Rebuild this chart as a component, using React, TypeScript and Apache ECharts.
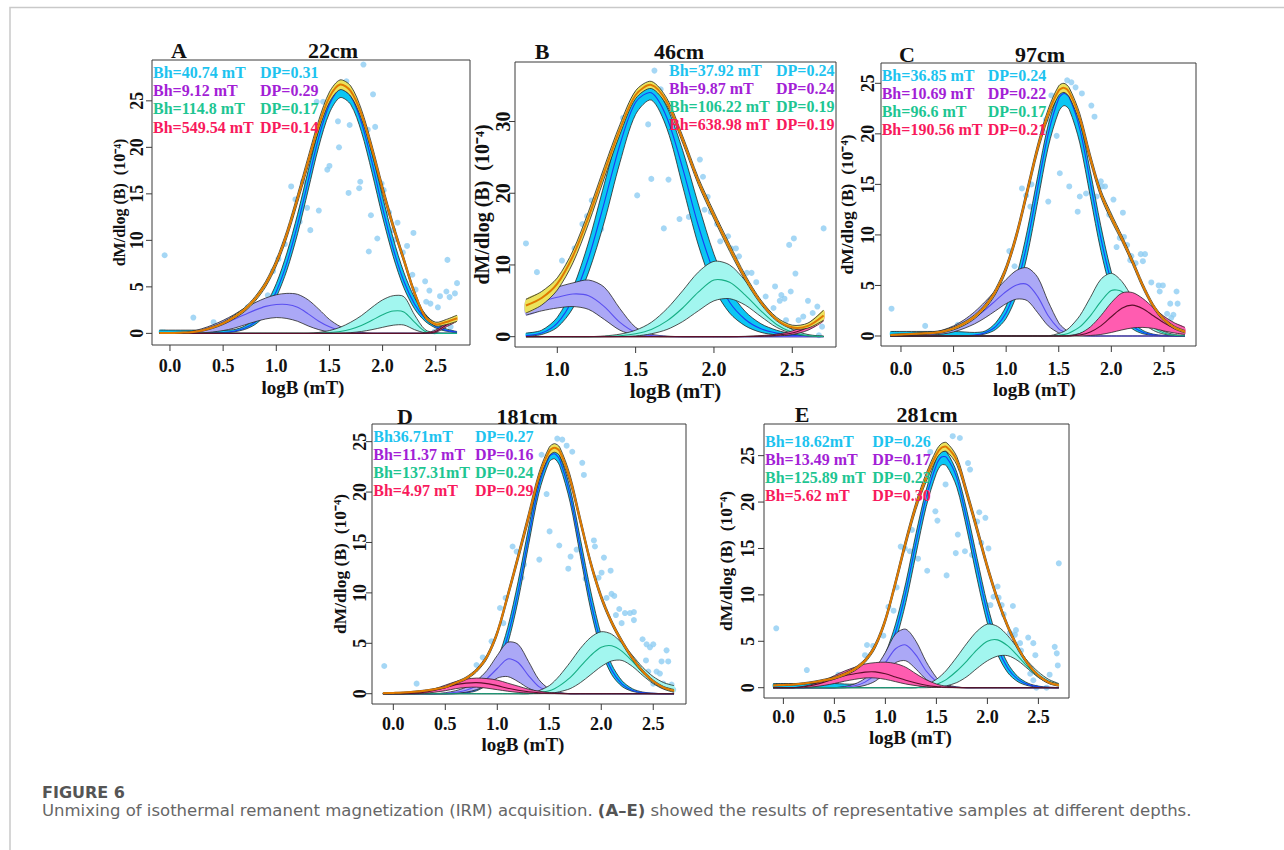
import React, { useEffect, useRef } from "react";
import * as echarts from "echarts";

// ---------- x grids (logB, mT) ----------
const xA = [-0.1,0,0.1,0.2,0.3,0.4,0.5,0.6,0.7,0.8,0.9,1.0,1.1,1.2,1.3,1.4,1.5,1.6,1.7,1.8,1.9,2.0,2.1,2.2,2.3,2.4,2.5,2.6,2.7];
const xB = [0.8,0.9,1.0,1.1,1.2,1.3,1.4,1.5,1.6,1.7,1.8,1.9,2.0,2.1,2.2,2.3,2.4,2.5,2.6,2.7];
const xCDE = [-0.1,0,0.1,0.2,0.3,0.4,0.5,0.6,0.7,0.8,0.9,1.0,1.1,1.2,1.3,1.4,1.5,1.55,1.6,1.7,1.8,1.9,2.0,2.1,2.2,2.3,2.4,2.5,2.6,2.7];

// ---------- Panel A (22cm) ----------
const aCyanMean = [0,0,0,0,0,0.03,0.08,0.22,0.54,1.2,2.4,4.5,7.6,11.7,16.4,21.1,24.6,26.25,25.5,22.7,18.4,13.5,9.1,5.6,3.15,1.6,0.75,0.32,0.12];
const aCyanLo = [0,0,0,0,0,0.02,0.06,0.16,0.41,0.95,2.0,3.9,6.8,10.7,15.4,20.1,23.7,25.35,24.6,21.7,17.3,12.5,8.25,4.9,2.65,1.3,0.58,0.23,0.09];
const aCyanHi = [0.35,0.35,0.35,0.35,0.35,0.35,0.35,0.4,0.77,1.6,3.05,5.35,8.65,12.8,17.5,21.95,25.3,26.85,26.2,23.5,19.35,14.7,10.2,6.55,3.85,2.1,1.04,0.48,0.2];
const aPurpleMean = [0,0,0,0.1,0.3,0.6,1.0,1.5,2.0,2.5,2.9,3.1,3.1,2.8,2.1,1.3,0.7,0.3,0.1,0.03,0,0,0,0,0,0,0,0,0];
const aPurpleLo = [0,0,0,0.02,0.05,0.15,0.3,0.55,0.9,1.25,1.55,1.7,1.6,1.3,0.8,0.4,0.15,0.05,0,0,0,0,0,0,0,0,0,0,0];
const aPurpleHi = [0,0,0,0.2,0.5,0.9,1.4,2.0,2.7,3.3,3.8,4.15,4.3,4.2,3.6,2.6,1.5,0.75,0.3,0.1,0,0,0,0,0,0,0,0,0];
const aGreenMean = [0,0,0,0,0,0,0,0,0,0,0,0,0,0,0,0.02,0.08,0.2,0.45,0.85,1.4,2.0,2.4,2.3,1.2,0.2,0.03,0,0];
const aGreenLo = [0,0,0,0,0,0,0,0,0,0,0,0,0,0,0,0,0,0.02,0.08,0.2,0.4,0.65,0.88,0.9,0.4,0.05,0,0,0];
const aGreenHi = [0,0,0,0,0,0,0,0,0,0,0,0,0,0,0,0.1,0.3,0.65,1.2,1.9,2.8,3.6,4.05,3.95,2.0,0.4,0.05,0,0];
const aPinkMean = [0,0,0,0,0,0,0,0,0,0,0,0,0,0,0,0,0,0,0,0,0,0,0,0,0,0.02,0.2,0.9,1.5];
const aPinkLo = [0,0,0,0,0,0,0,0,0,0,0,0,0,0,0,0,0,0,0,0,0,0,0,0,0,0,0.1,0.7,1.3];
const aPinkHi = [0,0,0,0,0,0,0,0,0,0,0,0,0,0,0,0,0,0,0,0,0,0,0,0,0,0.05,0.35,1.1,1.8];
const aTotalMean = [0.05,0.05,0.08,0.12,0.3,0.63,1.08,1.72,2.54,3.7,5.3,7.6,10.7,14.5,18.5,22.4,25.4,26.75,26.05,23.6,19.8,15.5,11.5,7.9,4.35,1.8,0.98,1.22,1.62];
const aTotalLo = [0.02,0.02,0.04,0.07,0.22,0.52,0.95,1.55,2.33,3.45,5.0,7.25,10.3,14.05,18.0,21.85,24.85,26.2,25.5,23.1,19.35,15.1,11.15,7.6,4.1,1.6,0.8,0.95,1.3];
const aTotalHi = [0.1,0.1,0.13,0.18,0.38,0.75,1.22,1.9,2.75,3.95,5.6,7.95,11.1,14.95,19.0,22.95,25.95,27.25,26.6,24.1,20.25,15.9,11.85,8.2,4.6,2.0,1.2,1.5,1.95];
const aPoints = [[-0.05,8.4],[0.22,1.7],[0.41,1.2],[0.54,1.3],[0.65,1.9],[0.73,2.8],[0.8,3.0],[0.92,4.1],[0.97,6.7],[1.02,8.0],[1.08,9.6],[1.14,15.8],[1.18,14.4],[1.22,12.0],[1.25,16.3],[1.29,13.5],[1.32,11.1],[1.38,24.9],[1.40,13.2],[1.44,24.9],[1.48,17.6],[1.50,18.0],[1.58,22.8],[1.59,20.0],[1.66,27.1],[1.68,15.1],[1.69,22.4],[1.78,15.6],[1.79,16.3],[1.82,28.9],[1.86,21.9],[1.87,8.8],[1.89,12.7],[1.91,25.7],[1.93,22.2],[1.95,10.2],[1.99,16.1],[2.01,15.4],[2.06,13.0],[2.10,11.1],[2.12,10.1],[2.14,11.9],[2.19,8.7],[2.23,9.4],[2.28,6.3],[2.29,10.8],[2.31,4.7],[2.40,5.6],[2.41,3.4],[2.44,4.6],[2.45,3.2],[2.49,0.2],[2.52,2.8],[2.54,4.0],[2.60,4.5],[2.60,1.1],[2.61,7.9],[2.63,3.9],[2.64,0.7],[2.68,4.3],[2.70,5.4]];

// ---------- Panel B (46cm) ----------
const bCyanMean = [0.15,0.5,1.9,5.3,11.0,18.7,26.8,32.7,34.0,30.5,23.5,15.5,9.0,4.8,2.4,1.1,0.5,0.2,0.08,0.03];
const bCyanLo = [0.08,0.3,1.3,4.0,9.0,16.0,24.3,31.0,33.0,29.0,21.0,12.8,6.8,3.3,1.5,0.6,0.25,0.1,0.03,0.01];
const bCyanHi = [0.5,0.9,2.7,6.8,13.2,21.3,29.0,34.2,35.2,32.0,26.0,18.5,11.5,6.5,3.5,1.8,0.9,0.4,0.18,0.07];
const bPurpleMean = [4.2,4.9,5.5,5.95,5.7,4.2,2.0,0.6,0.15,0.03,0,0,0,0,0,0,0,0,0,0];
const bPurpleLo = [3.0,3.6,4.0,4.2,3.8,2.4,0.9,0.2,0.04,0,0,0,0,0,0,0,0,0,0,0];
const bPurpleHi = [5.2,6.1,6.9,7.5,7.9,6.9,3.9,1.3,0.35,0.08,0,0,0,0,0,0,0,0,0,0];
const bGreenMean = [0,0,0,0,0,0.03,0.12,0.4,1.0,2.2,4.0,6.2,7.9,7.6,5.8,3.6,1.7,0.6,0.15,0.03];
const bGreenLo = [0,0,0,0,0,0,0.02,0.1,0.4,1.0,2.1,3.6,5.0,5.3,4.4,2.8,1.3,0.45,0.1,0.02];
const bGreenHi = [0,0,0,0,0,0.1,0.35,0.9,2.0,3.9,6.4,9.0,10.5,10.0,7.8,5.0,2.5,1.0,0.3,0.06];
const bPinkMean = [0,0,0,0,0,0,0,0,0,0,0,0,0,0,0.02,0.08,0.2,0.5,1.3,2.9];
const bPinkLo = [0,0,0,0,0,0,0,0,0,0,0,0,0,0,0,0.03,0.1,0.3,0.9,2.2];
const bPinkHi = [0,0,0,0,0,0,0,0,0,0,0,0,0,0,0.05,0.15,0.35,0.8,1.8,3.6];
const bTotalMean = [4.35,5.4,7.4,11.25,16.7,22.95,28.9,33.7,35.1,32.7,27.5,21.7,16.9,12.4,8.2,4.8,2.4,1.3,1.5,2.96];
const bTotalLo = [3.3,4.4,6.5,10.3,15.8,22.1,28.2,33.2,34.6,32.2,27.0,21.2,16.4,11.9,7.8,4.5,2.2,1.1,1.2,2.3];
const bTotalHi = [5.2,6.3,8.2,12.0,17.5,23.7,29.6,34.3,35.6,33.2,28.0,22.2,17.4,12.9,8.6,5.1,2.7,1.6,1.9,3.7];
const bPoints = [[0.80,13.0],[0.87,9.0],[1.03,10.6],[1.07,10.0],[1.11,12.3],[1.16,15.7],[1.19,16.8],[1.22,19.0],[1.28,15.0],[1.35,25.7],[1.42,30.5],[1.51,19.7],[1.58,29.6],[1.60,22.0],[1.62,37.1],[1.66,34.5],[1.68,15.1],[1.71,21.9],[1.78,16.4],[1.84,16.7],[1.91,24.7],[1.93,22.3],[1.94,17.7],[1.96,19.5],[1.98,17.4],[2.02,15.7],[2.04,13.3],[2.09,14.0],[2.11,12.3],[2.14,12.3],[2.16,11.2],[2.21,8.9],[2.24,8.9],[2.27,7.6],[2.26,5.6],[2.33,5.6],[2.38,4.0],[2.39,7.0],[2.42,5.0],[2.43,5.8],[2.45,5.3],[2.48,12.8],[2.51,13.7],[2.49,6.3],[2.52,8.8],[2.46,2.3],[2.54,2.3],[2.60,5.0],[2.57,2.8],[2.63,3.3],[2.66,4.2],[2.67,0.2],[2.69,1.4],[2.70,15.1]];

// ---------- Panel C (97cm) ----------
const cCyanMean = [0,0,0,0,0,0,0,0.02,0.09,0.32,0.93,2.3,5.0,9.2,14.7,20.0,23.5,24.0,23.6,20.5,15.2,9.7,5.35,2.5,1.03,0.36,0.11,0.03,0.01,0];
const cCyanLo = [0,0,0,0,0,0,0,0,0.05,0.2,0.64,1.75,4.06,7.97,13.3,18.7,22.2,22.8,22.4,19.1,13.8,8.46,4.38,1.92,0.71,0.22,0.06,0.01,0,0];
const cCyanHi = [0.45,0.45,0.45,0.45,0.45,0.45,0.45,0.4,0.35,0.49,1.3,2.97,5.95,10.4,15.8,20.9,24.1,24.6,24.3,21.3,16.3,10.9,6.33,3.2,1.42,0.55,0.18,0.05,0.01,0];
const cPurpleMean = [0,0,0,0.1,0.2,0.4,0.75,1.2,1.8,2.6,3.5,4.4,5.05,5.1,3.9,2.0,0.7,0.4,0.2,0.05,0,0,0,0,0,0,0,0,0,0];
const cPurpleLo = [0,0,0,0,0.1,0.2,0.4,0.75,1.2,1.8,2.5,3.2,3.65,3.5,2.3,1.0,0.3,0.15,0.08,0.02,0,0,0,0,0,0,0,0,0,0];
const cPurpleHi = [0,0,0,0.15,0.3,0.6,1.0,1.6,2.4,3.4,4.5,5.6,6.5,6.75,5.8,3.4,1.3,0.75,0.4,0.1,0,0,0,0,0,0,0,0,0,0];
const cGreenMean = [0,0,0,0,0,0,0,0,0,0,0,0,0,0,0,0,0.08,0.15,0.3,0.9,2.0,3.4,4.5,4.4,3.3,1.9,0.85,0.3,0.08,0.02];
const cGreenLo = [0,0,0,0,0,0,0,0,0,0,0,0,0,0,0,0,0,0.02,0.05,0.25,0.7,1.5,2.4,2.7,2.2,1.3,0.55,0.18,0.04,0.01];
const cGreenHi = [0,0,0,0,0,0,0,0,0,0,0,0,0,0,0,0,0.25,0.45,0.8,2.0,3.8,5.6,6.2,5.4,3.8,2.2,1.1,0.45,0.15,0.05];
const cPinkMean = [0,0,0,0,0,0,0,0,0,0,0,0,0,0,0,0,0,0,0,0.1,0.4,1.0,1.9,2.75,3.05,2.7,2.0,1.3,0.75,0.4];
const cPinkLo = [0,0,0,0,0,0,0,0,0,0,0,0,0,0,0,0,0,0,0,0,0.05,0.15,0.35,0.6,0.8,0.85,0.75,0.5,0.3,0.15];
const cPinkHi = [0,0,0,0,0,0,0,0,0,0,0,0,0,0,0,0,0,0,0,0.25,0.9,2.0,3.3,4.25,4.3,3.7,2.8,1.95,1.3,0.85];
const cTotalMean = [0.1,0.15,0.2,0.25,0.3,0.45,0.75,1.22,1.89,2.92,4.43,6.7,10.05,14.3,18.6,22.0,24.28,24.55,24.1,21.55,17.6,14.1,11.75,9.65,7.38,4.96,2.96,1.63,0.84,0.42];
const cTotalLo = [0.05,0.08,0.12,0.15,0.2,0.33,0.6,1.05,1.7,2.7,4.15,6.4,9.7,13.9,18.2,21.55,23.8,24.1,23.65,21.1,17.2,13.75,11.4,9.35,7.1,4.7,2.75,1.45,0.7,0.3];
const cTotalHi = [0.15,0.22,0.28,0.35,0.42,0.58,0.9,1.4,2.1,3.15,4.7,7.0,10.4,14.7,19.0,22.45,24.75,25.0,24.55,22.0,18.0,14.45,12.1,9.95,7.65,5.2,3.15,1.8,0.98,0.55];
const cPoints = [[-0.09,2.7],[0.23,1.0],[0.54,1.1],[0.80,2.9],[0.96,4.6],[1.03,8.4],[1.08,6.9],[1.15,14.6],[1.19,13.9],[1.23,12.8],[1.24,15.0],[1.35,20.2],[1.38,21.4],[1.40,13.3],[1.43,23.8],[1.48,19.8],[1.51,16.1],[1.58,25.3],[1.60,14.8],[1.62,25.1],[1.66,24.6],[1.68,12.3],[1.70,13.8],[1.72,24.0],[1.76,14.1],[1.81,22.8],[1.84,21.7],[1.86,13.8],[1.90,15.3],[1.91,14.8],[1.94,14.8],[1.98,12.0],[2.02,13.5],[2.05,8.8],[2.08,9.7],[2.11,12.2],[2.12,9.8],[2.15,9.0],[2.18,7.5],[2.19,7.9],[2.23,7.2],[2.28,8.1],[2.30,7.4],[2.32,8.1],[2.35,2.2],[2.38,5.3],[2.45,5.0],[2.46,4.4],[2.49,5.0],[2.53,2.2],[2.56,3.2],[2.57,1.8],[2.59,2.1],[2.62,4.4],[2.63,3.2],[2.68,0.4]];

// ---------- Panel D (181cm) ----------
const dCyanMean = [0,0,0,0,0,0,0,0.03,0.13,0.41,1.15,2.75,5.7,10.1,15.5,20.6,23.5,23.8,23.2,19.7,14.4,9.1,4.97,2.34,0.95,0.33,0.1,0.03,0,0];
const dCyanLo = [0,0,0,0,0,0,0,0,0.08,0.29,0.88,2.26,4.95,9.24,14.7,19.9,23.0,23.3,22.6,19.0,13.6,8.27,4.29,1.9,0.72,0.23,0.06,0,0,0];
const dCyanHi = [0,0,0,0,0,0,0,0.06,0.2,0.6,1.52,3.37,6.55,11.1,16.4,21.2,23.9,24.2,23.6,20.4,15.3,10.1,5.8,2.9,1.28,0.49,0.16,0.05,0,0];
const dPurpleMean = [0,0,0,0,0,0,0.05,0.15,0.35,0.8,1.5,2.5,3.45,3.1,1.8,0.7,0.2,0.1,0.05,0,0,0,0,0,0,0,0,0,0,0];
const dPurpleLo = [0,0,0,0,0,0,0,0.05,0.15,0.4,0.85,1.55,1.7,1.2,0.55,0.18,0.04,0.02,0,0,0,0,0,0,0,0,0,0,0,0];
const dPurpleHi = [0,0,0,0,0,0,0.1,0.3,0.65,1.3,2.3,3.8,5.1,4.9,3.2,1.4,0.45,0.25,0.12,0,0,0,0,0,0,0,0,0,0,0];
const dGreenMean = [0,0,0,0,0,0,0,0,0,0,0,0,0,0,0,0.1,0.3,0.5,0.8,1.6,2.7,3.8,4.6,4.75,4.2,3.2,2.1,1.2,0.6,0.3];
const dGreenLo = [0,0,0,0,0,0,0,0,0,0,0,0,0,0,0,0,0.05,0.1,0.2,0.5,1.1,1.9,2.7,3.25,3.3,2.7,1.8,1.0,0.45,0.15];
const dGreenHi = [0,0,0,0,0,0,0,0,0,0,0,0,0,0,0,0.3,0.8,1.25,1.8,3.1,4.5,5.6,6.15,5.9,5.0,3.8,2.6,1.7,1.1,0.8];
const dPinkMean = [0,0,0,0.05,0.15,0.35,0.6,0.9,1.05,1.1,1.0,0.8,0.55,0.35,0.2,0.1,0.05,0.03,0.02,0,0,0,0,0,0,0,0,0,0,0];
const dPinkLo = [0,0,0,0,0.05,0.15,0.3,0.5,0.62,0.65,0.55,0.4,0.25,0.13,0.06,0.02,0,0,0,0,0,0,0,0,0,0,0,0,0,0];
const dPinkHi = [0,0,0,0.1,0.25,0.5,0.85,1.2,1.45,1.55,1.5,1.35,1.05,0.75,0.45,0.25,0.12,0.08,0.05,0,0,0,0,0,0,0,0,0,0,0];
const dTotalMean = [0.05,0.08,0.12,0.2,0.3,0.45,0.65,1.08,1.53,2.31,3.65,6.05,9.7,13.55,17.5,21.5,24.05,24.4,24.05,21.3,17.1,12.9,9.57,7.09,5.15,3.53,2.2,1.23,0.6,0.3];
const dTotalLo = [0.02,0.05,0.08,0.15,0.25,0.38,0.58,0.98,1.4,2.15,3.45,5.8,9.4,13.2,17.1,21.1,23.6,23.95,23.6,20.9,16.75,12.6,9.3,6.85,4.95,3.35,2.05,1.1,0.5,0.2];
const dTotalHi = [0.1,0.12,0.16,0.25,0.36,0.52,0.73,1.18,1.66,2.47,3.85,6.3,10.0,13.9,17.9,21.9,24.45,24.8,24.45,21.7,17.45,13.2,9.85,7.3,5.35,3.7,2.35,1.36,0.72,0.42];
const dPoints = [[-0.087,2.75],[0.224,1.0],[0.80,2.85],[0.86,3.6],[0.945,5.2],[1.026,8.5],[1.058,7.0],[1.08,9.5],[1.147,14.6],[1.186,14.1],[1.234,11.5],[1.256,12.8],[1.404,13.3],[1.426,23.7],[1.474,19.8],[1.503,16.1],[1.577,25.3],[1.596,14.7],[1.625,25.2],[1.667,24.6],[1.683,12.4],[1.705,13.6],[1.721,24.0],[1.763,14.3],[1.817,22.9],[1.833,21.7],[1.849,11.4],[1.929,15.2],[1.939,14.6],[1.974,11.5],[2.003,12.0],[2.026,13.5],[2.051,9.5],[2.09,12.2],[2.099,9.9],[2.125,9.7],[2.141,7.8],[2.173,8.4],[2.196,7.0],[2.228,8.0],[2.276,8.0],[2.314,7.3],[2.314,8.1],[2.397,5.4],[2.43,3.3],[2.436,4.9],[2.468,4.6],[2.5,4.9],[2.452,2.2],[2.532,2.2],[2.564,2.0],[2.58,3.2],[2.628,4.3],[2.644,3.2],[2.596,1.0],[2.676,0.9],[2.692,0.4],[2.5,1.0]];

// ---------- Panel E (281cm) ----------
const eCyanMean = [0,0,0,0,0,0,0,0.06,0.19,0.55,1.38,3.07,6.0,10.3,15.6,20.5,24.0,24.85,24.8,22.6,18.0,12.9,8.0,4.36,2.1,0.89,0.33,0.11,0.03,0.01];
const eCyanLo = [0,0,0,0,0,0,0,0,0.12,0.37,1.02,2.44,5.08,9.17,14.4,19.5,23.1,24.0,23.9,21.6,17.0,11.7,6.93,3.58,1.61,0.63,0.21,0.06,0.01,0];
const eCyanHi = [0.45,0.45,0.45,0.45,0.45,0.45,0.45,0.4,0.4,0.76,1.78,3.71,6.87,11.3,16.6,21.3,24.7,25.5,25.4,23.2,19.0,13.9,8.95,5.13,2.61,1.18,0.48,0.17,0.05,0.02];
const ePurpleMean = [0,0,0,0,0,0,0,0.05,0.2,0.6,1.4,2.7,4.2,4.6,3.5,1.8,0.65,0.35,0.18,0.04,0,0,0,0,0,0,0,0,0,0];
const ePurpleLo = [0,0,0,0,0,0,0,0,0.05,0.25,0.7,1.6,2.7,2.9,2.0,0.9,0.28,0.13,0.06,0,0,0,0,0,0,0,0,0,0,0];
const ePurpleHi = [0,0,0,0,0,0,0,0.12,0.4,1.0,2.1,3.8,5.8,6.3,5.0,2.8,1.1,0.65,0.35,0.08,0,0,0,0,0,0,0,0,0,0];
const eGreenMean = [0,0,0,0,0,0,0,0,0,0,0,0,0,0,0,0.1,0.35,0.6,0.9,1.8,2.9,4.1,5.0,5.15,4.5,3.4,2.2,1.2,0.55,0.25];
const eGreenLo = [0,0,0,0,0,0,0,0,0,0,0,0,0,0,0,0,0.05,0.1,0.2,0.55,1.2,2.1,2.9,3.4,3.45,2.9,2.0,1.1,0.5,0.2];
const eGreenHi = [0,0,0,0,0,0,0,0,0,0,0,0,0,0,0,0.3,0.9,1.35,1.9,3.3,4.8,6.1,6.85,6.6,5.6,4.2,2.8,1.7,0.9,0.45];
const ePinkMean = [0,0,0,0.1,0.3,0.6,0.95,1.3,1.5,1.68,1.7,1.5,1.15,0.8,0.5,0.27,0.12,0.08,0.05,0.02,0,0,0,0,0,0,0,0,0,0];
const ePinkLo = [0,0,0,0,0.1,0.25,0.45,0.7,0.9,1.05,1.05,0.9,0.65,0.4,0.22,0.1,0.04,0.02,0.01,0,0,0,0,0,0,0,0,0,0,0];
const ePinkHi = [0,0,0,0.15,0.4,0.8,1.3,1.8,2.2,2.55,2.7,2.75,2.6,2.2,1.5,0.85,0.4,0.25,0.15,0.05,0,0,0,0,0,0,0,0,0,0];
const eTotalMean = [0.25,0.3,0.35,0.45,0.6,0.8,1.05,1.45,2.0,2.9,4.5,7.3,11.35,15.7,19.6,22.67,25.12,25.85,25.93,24.46,20.9,17.0,13.0,9.51,6.6,4.29,2.53,1.31,0.58,0.26];
const eTotalLo = [0.18,0.22,0.27,0.36,0.5,0.68,0.92,1.3,1.83,2.7,4.25,7.0,11.0,15.3,19.2,22.2,24.65,25.35,25.45,24.0,20.5,16.6,12.65,9.2,6.35,4.05,2.35,1.15,0.45,0.15];
const eTotalHi = [0.32,0.38,0.43,0.54,0.7,0.92,1.18,1.6,2.17,3.1,4.75,7.6,11.7,16.1,20.0,23.1,25.6,26.3,26.4,24.9,21.3,17.4,13.35,9.8,6.85,4.5,2.7,1.45,0.72,0.4];
const ePoints = [[-0.07,6.4],[0.23,1.9],[0.42,0.3],[0.54,1.4],[0.80,3.5],[0.82,4.6],[0.88,4.5],[0.98,5.6],[1.03,8.7],[1.08,8.3],[1.11,10.8],[1.15,15.2],[1.19,15.0],[1.24,14.7],[1.26,17.0],[1.32,13.9],[1.41,12.6],[1.44,25.4],[1.49,19.0],[1.51,18.0],[1.59,21.9],[1.60,12.1],[1.66,27.1],[1.69,14.5],[1.71,16.5],[1.73,26.9],[1.78,14.7],[1.81,24.2],[1.83,23.5],[1.85,14.3],[1.90,17.9],[1.92,18.9],[1.94,15.6],[1.98,18.3],[2.01,15.0],[1.99,8.9],[2.03,8.9],[2.06,9.8],[2.10,10.9],[2.11,9.7],[2.14,8.9],[2.16,7.9],[2.22,5.9],[2.24,5.7],[2.25,8.8],[2.27,5.7],[2.28,6.2],[2.32,4.8],[2.33,4.0],[2.40,5.4],[2.45,4.8],[2.47,3.5],[2.42,1.5],[2.45,0.8],[2.48,0.0],[2.58,0.0],[2.61,1.4],[2.66,4.4],[2.68,3.7],[2.69,2.4],[2.70,13.4]];

// ---------- labels ----------
const panelLetters = ["A", "B", "C", "D", "E"];
const panelDepths = ["22cm", "46cm", "97cm", "181cm", "281cm"];
const bhLabelsA = ["Bh=40.74 mT", "Bh=9.12 mT", "Bh=114.8 mT", "Bh=549.54 mT"];
const dpLabelsA = ["DP=0.31", "DP=0.29", "DP=0.17", "DP=0.14"];
const bhLabelsB = ["Bh=37.92 mT", "Bh=9.87 mT", "Bh=106.22 mT", "Bh=638.98 mT"];
const dpLabelsB = ["DP=0.24", "DP=0.24", "DP=0.19", "DP=0.19"];
const bhLabelsC = ["Bh=36.85 mT", "Bh=10.69 mT", "Bh=96.6 mT", "Bh=190.56 mT"];
const dpLabelsC = ["DP=0.24", "DP=0.22", "DP=0.17", "DP=0.21"];
const bhLabelsD = ["Bh36.71mT", "Bh=11.37 mT", "Bh=137.31mT", "Bh=4.97 mT"];
const dpLabelsD = ["DP=0.27", "DP=0.16", "DP=0.24", "DP=0.29"];
const bhLabelsE = ["Bh=18.62mT", "Bh=13.49 mT", "Bh=125.89 mT", "Bh=5.62 mT"];
const dpLabelsE = ["DP=0.26", "DP=0.17", "DP=0.23", "DP=0.30"];
const xTicksFull = [0, 0.5, 1.0, 1.5, 2.0, 2.5];
const xTicksB = [1.0, 1.5, 2.0, 2.5];
const yTicks25 = [0, 5, 10, 15, 20, 25];
const yTicksB = [0, 10, 20, 30];
const xAxisName = "logB (mT)";
const yAxisName = "dM/dlog (B)  (10\u207B\u2074)";
const captionTitle = "FIGURE 6";
const captionText = "Unmixing of isothermal remanent magnetization (IRM) acquisition. {b|(A\u2013E)} showed the results of representative samples at different depths.";

// ---------- styling ----------
const COMP_STYLE = [
  { fill: "#0bc6f3", line: "#1b3df0", text: "#1dc3ef" },
  { fill: "#aba8f6", line: "#5a4ff0", text: "#a31fd6" },
  { fill: "#a2f6ef", line: "#16ae84", text: "#1ec592" },
  { fill: "#ff5cb0", line: "#5c0f2a", text: "#f81a5c" },
];
const SERIF = '"Liberation Serif", "Times New Roman", serif';
const SANS = '"DejaVu Sans", "Open Sans", sans-serif';
const AXIS_COLOR = "#3a3a3a";

const PANELS = [
  {
    grid: { left: 152, top: 60, width: 318, height: 285 }, xr: [-0.169, 2.822], yr: [-1.25, 29.39],
    xTicks: xTicksFull, yTicks: yTicks25, tickFont: 18, nameFont: 19, yNameFont: 16,
    yLabelMargin: 6, yNameGap: 15, xLabelMargin: 12, xNameGap: 33, xNameShift: 8,
    xs: xA,
    comps: [[aCyanLo, aCyanMean, aCyanHi], [aPurpleLo, aPurpleMean, aPurpleHi], [aGreenLo, aGreenMean, aGreenHi], [aPinkLo, aPinkMean, aPinkHi]],
    total: [aTotalLo, aTotalMean, aTotalHi], points: aPoints,
    bh: bhLabelsA, dp: dpLabelsA, legend: { xb: 153, xd: 260, y: 72.3, dy: 18.3 },
    title: { lx: 179, dx: 333, y: 50 },
  },
  {
    grid: { left: 515, top: 62, width: 321, height: 285 }, xr: [0.73, 2.779], yr: [-1.44, 38.3],
    xTicks: xTicksB, yTicks: yTicksB, tickFont: 20, nameFont: 21, yNameFont: 20,
    yLabelMargin: 2, yNameGap: 22, xLabelMargin: 12, xNameGap: 33, xNameShift: 0,
    xs: xB,
    comps: [[bCyanLo, bCyanMean, bCyanHi], [bPurpleLo, bPurpleMean, bPurpleHi], [bGreenLo, bGreenMean, bGreenHi], [bPinkLo, bPinkMean, bPinkHi]],
    total: [bTotalLo, bTotalMean, bTotalHi], points: bPoints,
    bh: bhLabelsB, dp: dpLabelsB, legend: { xb: 669, xd: 776, y: 70, dy: 18.1 },
    title: { lx: 542, dx: 679, y: 51 },
  },
  {
    grid: { left: 881, top: 63, width: 315, height: 283 }, xr: [-0.19, 2.805], yr: [-0.99, 27.01],
    xTicks: xTicksFull, yTicks: yTicks25, tickFont: 18, nameFont: 19, yNameFont: 17.5,
    yLabelMargin: 4, yNameGap: 25, xLabelMargin: 14, xNameGap: 34, xNameShift: 4,
    xs: xCDE,
    comps: [[cCyanLo, cCyanMean, cCyanHi], [cPurpleLo, cPurpleMean, cPurpleHi], [cGreenLo, cGreenMean, cGreenHi], [cPinkLo, cPinkMean, cPinkHi]],
    total: [cTotalLo, cTotalMean, cTotalHi], points: cPoints,
    bh: bhLabelsC, dp: dpLabelsC, legend: { xb: 881.7, xd: 987.7, y: 75, dy: 18 },
    title: { lx: 907, dx: 1040, y: 54 },
  },
  {
    grid: { left: 372, top: 424, width: 314, height: 280 }, xr: [-0.205, 2.815], yr: [-1.02, 26.75],
    xTicks: xTicksFull, yTicks: yTicks25, tickFont: 18, nameFont: 19, yNameFont: 17.5,
    yLabelMargin: 3, yNameGap: 23, xLabelMargin: 11, xNameGap: 31, xNameShift: 6,
    xs: xCDE,
    comps: [[dCyanLo, dCyanMean, dCyanHi], [dPurpleLo, dPurpleMean, dPurpleHi], [dGreenLo, dGreenMean, dGreenHi], [dPinkLo, dPinkMean, dPinkHi]],
    total: [dTotalLo, dTotalMean, dTotalHi], points: dPoints,
    bh: bhLabelsD, dp: dpLabelsD, legend: { xb: 373.3, xd: 475, y: 436.7, dy: 18 },
    title: { lx: 405, dx: 527, y: 416 },
  },
  {
    grid: { left: 764, top: 424, width: 305, height: 274 }, xr: [-0.19, 2.8], yr: [-1.11, 28.41],
    xTicks: xTicksFull, yTicks: yTicks25, tickFont: 18, nameFont: 19, yNameFont: 17.5,
    yLabelMargin: 7, yNameGap: 29, xLabelMargin: 10, xNameGap: 30, xNameShift: 6,
    xs: xCDE,
    comps: [[eCyanLo, eCyanMean, eCyanHi], [ePurpleLo, ePurpleMean, ePurpleHi], [eGreenLo, eGreenMean, eGreenHi], [ePinkLo, ePinkMean, ePinkHi]],
    total: [eTotalLo, eTotalMean, eTotalHi], points: ePoints,
    bh: bhLabelsE, dp: dpLabelsE, legend: { xb: 765, xd: 872.3, y: 441.7, dy: 18 },
    title: { lx: 802, dx: 927, y: 414 },
  },
];

const OUTLINE = "#262626";
const SMOOTH = 0.3;

// band = filled area between lo and hi (outlined), plus the mean curve
function bandSeries(i: number, xs: number[], lo: number[], mean: number[], hi: number[], fill: string, meanColor: string, meanWidth: number): any {
  return {
    type: "custom",
    xAxisIndex: i,
    yAxisIndex: i,
    silent: true,
    clip: true,
    z: 2,
    data: [[xs[0], lo[0]]],
    renderItem: (_params: any, api: any) => {
      const L = xs.map((x, k) => api.coord([x, lo[k]]));
      const H = xs.map((x, k) => api.coord([x, hi[k]]));
      const M = xs.map((x, k) => api.coord([x, mean[k]]));
      return {
        type: "group",
        children: [
          { type: "polygon", shape: { points: L.concat(H.slice().reverse()), smooth: SMOOTH }, style: { fill, stroke: "none" } },
          { type: "polyline", shape: { points: L, smooth: SMOOTH }, style: { stroke: OUTLINE, lineWidth: 0.8, fill: "none" } },
          { type: "polyline", shape: { points: H, smooth: SMOOTH }, style: { stroke: OUTLINE, lineWidth: 0.8, fill: "none" } },
          { type: "polyline", shape: { points: M, smooth: SMOOTH }, style: { stroke: meanColor, lineWidth: meanWidth, fill: "none" } },
        ],
      };
    },
  };
}

// outward tick marks on the bottom and left edges of the plot box, placed by the axes' scales
function tickSeries(i: number, xr: number[], yr: number[], xTicks: number[], yTicks: number[]): any {
  return {
    type: "custom",
    xAxisIndex: i,
    yAxisIndex: i,
    silent: true,
    clip: false,
    z: 3,
    data: [[xr[0], yr[0]]],
    renderItem: (_params: any, api: any) => {
      const children: any[] = [];
      xTicks.forEach((v) => {
        const a = api.coord([v, yr[0]]);
        children.push({ type: "line", shape: { x1: a[0], y1: a[1], x2: a[0], y2: a[1] + 6 }, style: { stroke: AXIS_COLOR, lineWidth: 1 } });
      });
      yTicks.forEach((v) => {
        const a = api.coord([xr[0], v]);
        children.push({ type: "line", shape: { x1: a[0] - 6, y1: a[1], x2: a[0], y2: a[1] }, style: { stroke: AXIS_COLOR, lineWidth: 1 } });
      });
      return { type: "group", children };
    },
  };
}

function buildOption() {
  const grids: any[] = [];
  const xAxes: any[] = [];
  const yAxes: any[] = [];
  const series: any[] = [];
  const graphics: any[] = [];

  graphics.push({
    type: "polyline", z: 100,
    shape: { points: [[10, 850], [10, 7.5], [1284, 7.5]] },
    style: { stroke: "#c9c9c9", lineWidth: 1.5, fill: "none" },
  });

  PANELS.forEach((p, i) => {
    grids.push({ ...p.grid, show: true, borderColor: AXIS_COLOR, borderWidth: 1, backgroundColor: "transparent", containLabel: false });
    xAxes.push({
      type: "value", gridIndex: i, min: p.xr[0], max: p.xr[1], position: "bottom",
      axisLine: { show: false, onZero: false },
      axisTick: { show: false },
      axisLabel: {
        customValues: p.xTicks, margin: p.xLabelMargin, color: "#111",
        fontFamily: SERIF, fontWeight: "bold", fontSize: p.tickFont,
        formatter: (v: number) => v.toFixed(1),
      },
      splitLine: { show: false },
      name: xAxisName, nameLocation: "middle", nameGap: p.xNameGap,
      nameTextStyle: {
        fontFamily: SERIF, fontWeight: "bold", fontSize: p.nameFont, color: "#111",
        padding: [0, 2 * p.xNameShift, 0, 0],
      },
    });
    yAxes.push({
      type: "value", gridIndex: i, min: p.yr[0], max: p.yr[1], position: "left",
      axisLine: { show: false, onZero: false },
      axisTick: { show: false },
      axisLabel: {
        customValues: p.yTicks, margin: p.yLabelMargin, rotate: 90, color: "#111",
        fontFamily: SERIF, fontWeight: "bold", fontSize: p.tickFont,
        formatter: (v: number) => String(Math.round(v)),
      },
      splitLine: { show: false },
      name: yAxisName, nameLocation: "middle", nameGap: p.yNameGap,
      nameTextStyle: { fontFamily: SERIF, fontWeight: "bold", fontSize: p.yNameFont, color: "#111" },
    });

    series.push({
      type: "scatter", xAxisIndex: i, yAxisIndex: i, data: p.points, symbol: "circle", symbolSize: 6,
      itemStyle: { color: "#8fcdf2" }, silent: true, z: 1,
    });

    p.comps.forEach((c, j) => {
      const st = COMP_STYLE[j];
      series.push(bandSeries(i, p.xs, c[0], c[1], c[2], st.fill, st.line, 1.1));
    });
    series.push(bandSeries(i, p.xs, p.total[0], p.total[1], p.total[2], "#ebe35c", "#e07a00", 2));
    series.push(tickSeries(i, p.xr, p.yr, p.xTicks, p.yTicks));

    graphics.push({
      type: "text", z: 100,
      style: { text: panelLetters[i], x: p.title.lx, y: p.title.y, fill: "#111", font: `bold 22px ${SERIF}`, textAlign: "center", textVerticalAlign: "middle" },
    });
    graphics.push({
      type: "text", z: 100,
      style: { text: panelDepths[i], x: p.title.dx, y: p.title.y, fill: "#111", font: `bold 22px ${SERIF}`, textAlign: "center", textVerticalAlign: "middle" },
    });
    p.bh.forEach((t, r) => {
      const col = COMP_STYLE[r].text;
      const y = p.legend.y + r * p.legend.dy;
      graphics.push({ type: "text", z: 100, style: { text: t, x: p.legend.xb, y, fill: col, font: `bold 16px ${SERIF}`, textAlign: "left", textVerticalAlign: "middle" } });
      graphics.push({ type: "text", z: 100, style: { text: p.dp[r], x: p.legend.xd, y, fill: col, font: `bold 16px ${SERIF}`, textAlign: "left", textVerticalAlign: "middle" } });
    });
  });

  graphics.push({
    type: "text", z: 100,
    style: { text: captionTitle, x: 42, y: 800, fill: "#555", fontFamily: SANS, fontSize: 16, fontWeight: "bold", textAlign: "left", textVerticalAlign: "bottom" },
  });
  graphics.push({
    type: "text", z: 100,
    style: {
      text: captionText, x: 42, y: 802, fill: "#666",
      fontFamily: SANS, fontSize: 16.5, fontWeight: "normal",
      textAlign: "left", textVerticalAlign: "top",
      rich: { b: { fontFamily: SANS, fontSize: 16.5, fontWeight: "bold", fill: "#555" } },
    },
  });

  return {
    animation: false,
    backgroundColor: "#ffffff",
    grid: grids,
    xAxis: xAxes,
    yAxis: yAxes,
    series,
    graphic: graphics,
  };
}

export default function App() {
  const ref = useRef<HTMLDivElement>(null);
  useEffect(() => {
    if (!ref.current) return;
    const chart = echarts.init(ref.current, undefined, { renderer: "svg" });
    chart.setOption(buildOption() as any);
    return () => chart.dispose();
  }, []);
  return <div ref={ref} style={{ position: "absolute", left: 0, top: 0, width: 1284, height: 850 }} />;
}
